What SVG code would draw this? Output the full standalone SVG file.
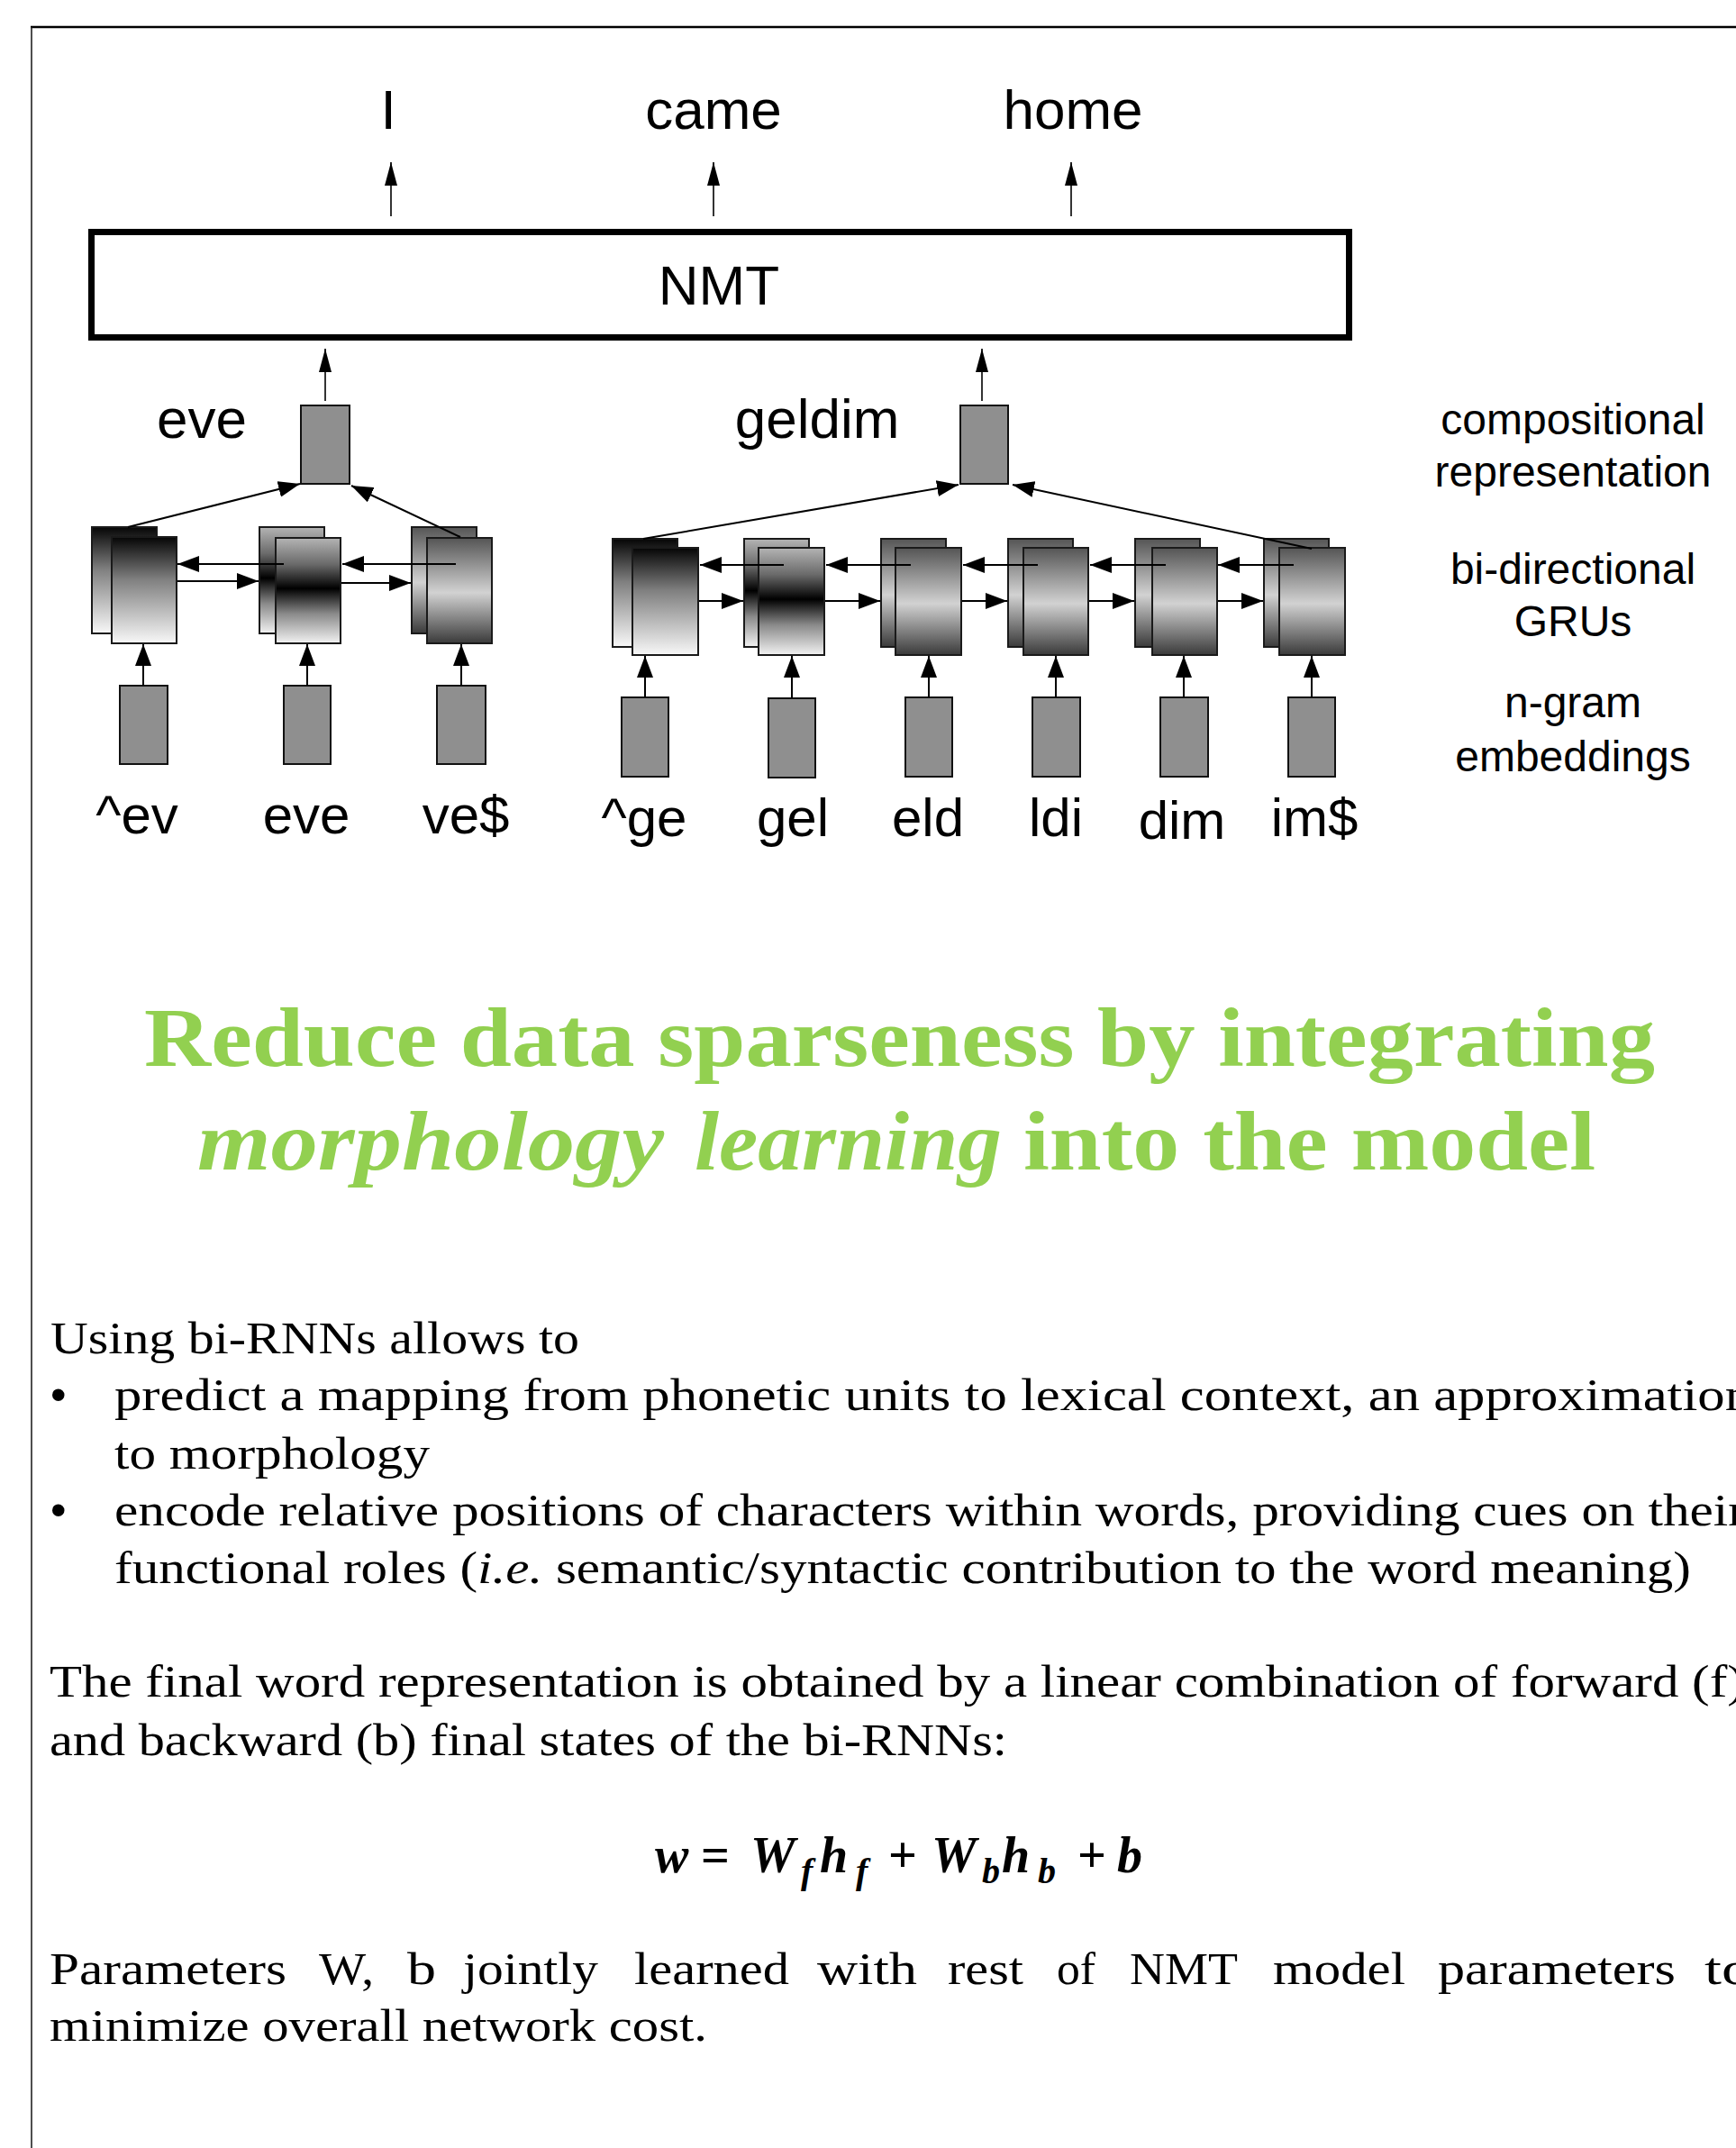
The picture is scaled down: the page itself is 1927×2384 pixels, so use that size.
<svg xmlns="http://www.w3.org/2000/svg" width="1927" height="2384" viewBox="0 0 1927 2384">
  <defs>
    <style>
      .sans { font-family: "Liberation Sans", Arial, sans-serif; fill: #000; }
      .lbl { font-size: 62px; text-anchor: middle; }
      .gram { font-size: 60px; text-anchor: middle; }
      .side { font-size: 48px; text-anchor: middle; }
      .serif { font-family: "Liberation Serif", "Times New Roman", serif; fill: #000; }
      .body { font-size: 51px; }
      .title { font-family: "Liberation Serif", "Times New Roman", serif; font-size: 94px; font-weight: bold; fill: #92D050; }
      .eq { font-family: "Liberation Serif", "Times New Roman", serif; font-size: 56px; font-weight: bold; font-style: italic; fill: #000; }
      .eqsub { font-size: 40px; }
      .emb { fill: #8f8f8f; stroke: #111; stroke-width: 2; }
      .gru { stroke: #1a1a1a; stroke-width: 2; }
      .arr { stroke: #000; stroke-width: 2; fill: none; marker-end: url(#head); }
      .arrThin { stroke: #000; stroke-width: 1.6; fill: none; marker-end: url(#headTall); }
    </style>
    <marker id="head" markerUnits="userSpaceOnUse" markerWidth="24" markerHeight="18" refX="24" refY="9" orient="auto">
      <path d="M0,0 L24,9 L0,18 z" fill="#000"/>
    </marker>
    <marker id="headTall" markerUnits="userSpaceOnUse" markerWidth="26" markerHeight="14" refX="26" refY="7" orient="auto">
      <path d="M0,0 L26,7 L0,14 z" fill="#000"/>
    </marker>
    <!-- first n-gram cell: dark top fading to white -->
    <linearGradient id="gStart" x1="0" y1="0" x2="0" y2="1">
      <stop offset="0" stop-color="#050505"/>
      <stop offset="0.4" stop-color="#808080"/>
      <stop offset="1" stop-color="#f8f8f8"/>
    </linearGradient>
    <!-- second cell: black band in the middle -->
    <linearGradient id="gMid" x1="0" y1="0" x2="0" y2="1">
      <stop offset="0" stop-color="#b4b4b4"/>
      <stop offset="0.25" stop-color="#6a6a6a"/>
      <stop offset="0.48" stop-color="#000"/>
      <stop offset="0.72" stop-color="#8a8a8a"/>
      <stop offset="1" stop-color="#f2f2f2"/>
    </linearGradient>
    <!-- remaining cells: dark edges, light centre -->
    <linearGradient id="gRest" x1="0" y1="0" x2="0" y2="1">
      <stop offset="0" stop-color="#555"/>
      <stop offset="0.52" stop-color="#d2d2d2"/>
      <stop offset="1" stop-color="#3a3a3a"/>
    </linearGradient>
  </defs>

  <rect width="1927" height="2384" fill="#fff"/>

  <!-- slide frame -->
  <g id="frame">
    <line x1="34" y1="30" x2="1927" y2="30" stroke="#000" stroke-width="2.5"/>
    <line x1="35" y1="30" x2="35" y2="2384" stroke="#222" stroke-width="1.6"/>
  </g>

  <!-- output words -->
  <g id="out-I"><text class="sans lbl" x="431" y="143" font-size="64">I</text></g>
  <g id="out-came"><text class="sans lbl" x="792" y="143" font-size="64">came</text></g>
  <g id="out-home"><text class="sans lbl" x="1191" y="143" font-size="64">home</text></g>

  <!-- NMT block -->
  <g id="nmt">
    <rect x="101.5" y="257.5" width="1396" height="117" fill="#fff" stroke="#000" stroke-width="7"/>
    <text class="sans lbl" x="798" y="338">NMT</text>
  </g>

  <!-- word "eve" -->
  <g id="word-eve">
    <text class="sans lbl" x="224" y="486">eve</text>
    <rect id="comp-eve" class="emb" x="334" y="450" width="54" height="87"/>
  </g>
  <g id="gru-eve-1">
    <rect class="gru" x="102" y="585" width="72" height="118" fill="url(#gStart)"/>
    <rect class="gru" x="124" y="596" width="72" height="118" fill="url(#gStart)"/>
  </g>
  <g id="gru-eve-2">
    <rect class="gru" x="288" y="585" width="72" height="118" fill="url(#gMid)"/>
    <rect class="gru" x="306" y="597" width="72" height="117" fill="url(#gMid)"/>
  </g>
  <g id="gru-eve-3">
    <rect class="gru" x="457" y="585" width="72" height="118" fill="url(#gRest)"/>
    <rect class="gru" x="474" y="597" width="72" height="117" fill="url(#gRest)"/>
  </g>
  <g id="emb-ev1"><rect class="emb" x="133" y="761" width="53" height="87"/><text class="sans gram" x="152" y="925">^ev</text></g>
  <g id="emb-eve"><rect class="emb" x="315" y="761" width="52" height="87"/><text class="sans gram" x="340" y="925">eve</text></g>
  <g id="emb-ve2"><rect class="emb" x="485" y="761" width="54" height="87"/><text class="sans gram" x="517" y="925">ve$</text></g>

  <!-- word "geldim" -->
  <g id="word-geldim">
    <text class="sans lbl" x="907" y="486">geldim</text>
    <rect id="comp-geldim" class="emb" x="1066" y="450" width="53" height="87"/>
  </g>
  <g id="gru-geldim-1">
    <rect class="gru" x="680" y="598" width="72" height="120" fill="url(#gStart)"/>
    <rect class="gru" x="702" y="608" width="73" height="119" fill="url(#gStart)"/>
  </g>
  <g id="gru-geldim-2">
    <rect class="gru" x="826" y="598" width="72" height="120" fill="url(#gMid)"/>
    <rect class="gru" x="842" y="608" width="73" height="119" fill="url(#gMid)"/>
  </g>
  <g id="gru-geldim-3">
    <rect class="gru" x="978" y="598" width="72" height="120" fill="url(#gRest)"/>
    <rect class="gru" x="994" y="608" width="73" height="119" fill="url(#gRest)"/>
  </g>
  <g id="gru-geldim-4">
    <rect class="gru" x="1119" y="598" width="72" height="120" fill="url(#gRest)"/>
    <rect class="gru" x="1136" y="608" width="72" height="119" fill="url(#gRest)"/>
  </g>
  <g id="gru-geldim-5">
    <rect class="gru" x="1260" y="598" width="72" height="120" fill="url(#gRest)"/>
    <rect class="gru" x="1279" y="608" width="72" height="119" fill="url(#gRest)"/>
  </g>
  <g id="gru-geldim-6">
    <rect class="gru" x="1403" y="598" width="72" height="120" fill="url(#gRest)"/>
    <rect class="gru" x="1420" y="608" width="73" height="119" fill="url(#gRest)"/>
  </g>
  <g id="emb-ge1"><rect class="emb" x="690" y="774" width="52" height="88"/><text class="sans gram" x="715" y="928">^ge</text></g>
  <g id="emb-gel"><rect class="emb" x="853" y="775" width="52" height="88"/><text class="sans gram" x="880" y="928">gel</text></g>
  <g id="emb-eld"><rect class="emb" x="1005" y="774" width="52" height="88"/><text class="sans gram" x="1030" y="928">eld</text></g>
  <g id="emb-ldi"><rect class="emb" x="1146" y="774" width="53" height="88"/><text class="sans gram" x="1172" y="928">ldi</text></g>
  <g id="emb-dim"><rect class="emb" x="1288" y="774" width="53" height="88"/><text class="sans gram" x="1312" y="931">dim</text></g>
  <g id="emb-im2"><rect class="emb" x="1430" y="774" width="52" height="88"/><text class="sans gram" x="1459" y="928">im$</text></g>

  <!-- layer captions -->
  <g id="caption-comp">
    <text class="sans side" x="1746" y="482">compositional</text>
    <text class="sans side" x="1746" y="540">representation</text>
  </g>
  <g id="caption-gru">
    <text class="sans side" x="1746" y="648">bi-directional</text>
    <text class="sans side" x="1746" y="706">GRUs</text>
  </g>
  <g id="caption-emb">
    <text class="sans side" x="1746" y="796">n-gram</text>
    <text class="sans side" x="1746" y="856">embeddings</text>
  </g>

  <!-- connectors -->
  <g id="connectors">
    <path class="arrThin" d="M434,240 L434,180"/>
    <path class="arrThin" d="M792,240 L792,180"/>
    <path class="arrThin" d="M1189,240 L1189,180"/>
    <path class="arrThin" d="M361,445 L361,387"/>
    <path class="arrThin" d="M1090,445 L1090,387"/>

    <path class="arr" d="M142,585 L333,537"/>
    <path class="arr" d="M511,596 L390,539"/>
    <path class="arr" d="M714,598 L1064,538"/>
    <path class="arr" d="M1456,609 L1124,538"/>

    <path class="arr" d="M159,761 L159,715"/>
    <path class="arr" d="M341,761 L341,715"/>
    <path class="arr" d="M512,761 L512,715"/>
    <path class="arr" d="M716,774 L716,728"/>
    <path class="arr" d="M879,775 L879,728"/>
    <path class="arr" d="M1031,774 L1031,728"/>
    <path class="arr" d="M1172,774 L1172,728"/>
    <path class="arr" d="M1314,774 L1314,728"/>
    <path class="arr" d="M1456,774 L1456,728"/>

    <path class="arr" d="M315,626 L197,626"/>
    <path class="arr" d="M197,645 L287,645"/>
    <path class="arr" d="M506,626 L380,626"/>
    <path class="arr" d="M379,647 L456,647"/>

    <path class="arr" d="M870,627 L777,627"/>
    <path class="arr" d="M1011,627 L917,627"/>
    <path class="arr" d="M1152,627 L1069,627"/>
    <path class="arr" d="M1294,627 L1210,627"/>
    <path class="arr" d="M1436,627 L1352,627"/>
    <path class="arr" d="M776,667 L825,667"/>
    <path class="arr" d="M916,667 L977,667"/>
    <path class="arr" d="M1068,667 L1118,667"/>
    <path class="arr" d="M1209,667 L1259,667"/>
    <path class="arr" d="M1352,667 L1402,667"/>
  </g>

  <!-- headline -->
  <g id="headline">
    <text class="title" x="160" y="1183" textLength="1677" lengthAdjust="spacingAndGlyphs">Reduce data sparseness by integrating</text>
    <text class="title" x="219" y="1298" font-style="italic" textLength="518" lengthAdjust="spacingAndGlyphs">morphology</text>
    <text class="title" x="771" y="1298" font-style="italic" textLength="341" lengthAdjust="spacingAndGlyphs">learning</text>
    <text class="title" x="1136" y="1298" textLength="635" lengthAdjust="spacingAndGlyphs">into the model</text>
  </g>

  <!-- explanatory text -->
  <g id="body-text" class="serif body">
    <text x="56" y="1502" textLength="587" lengthAdjust="spacingAndGlyphs">Using bi-RNNs allows to</text>
    <text class="sans" x="56" y="1565" font-size="50">•</text>
    <text x="127" y="1565" textLength="1818" lengthAdjust="spacingAndGlyphs">predict a mapping from phonetic units to lexical context, an approximation</text>
    <text x="127" y="1630" textLength="350" lengthAdjust="spacingAndGlyphs">to morphology</text>
    <text class="sans" x="56" y="1693" font-size="50">•</text>
    <text x="127" y="1693" textLength="1811" lengthAdjust="spacingAndGlyphs">encode relative positions of characters within words, providing cues on their</text>
    <text x="127" y="1757" textLength="1750" lengthAdjust="spacingAndGlyphs">functional roles (<tspan font-style="italic">i.e.</tspan> semantic/syntactic contribution to the word meaning)</text>

    <text x="55" y="1883" textLength="1882" lengthAdjust="spacingAndGlyphs">The final word representation is obtained by a linear combination of forward (f)</text>
    <text x="55" y="1948" textLength="1063" lengthAdjust="spacingAndGlyphs">and backward (b) final states of the bi-RNNs:</text>

    <!-- justified line: each word placed on its own -->
    <text x="55" y="2202" textLength="263" lengthAdjust="spacingAndGlyphs">Parameters</text>
    <text x="354" y="2202" textLength="61" lengthAdjust="spacingAndGlyphs">W,</text>
    <text x="452" y="2202" textLength="32" lengthAdjust="spacingAndGlyphs">b</text>
    <text x="514" y="2202" textLength="150" lengthAdjust="spacingAndGlyphs">jointly</text>
    <text x="704" y="2202" textLength="172" lengthAdjust="spacingAndGlyphs">learned</text>
    <text x="907" y="2202" textLength="111" lengthAdjust="spacingAndGlyphs">with</text>
    <text x="1052" y="2202" textLength="84" lengthAdjust="spacingAndGlyphs">rest</text>
    <text x="1173" y="2202" textLength="43" lengthAdjust="spacingAndGlyphs">of</text>
    <text x="1254" y="2202" textLength="120" lengthAdjust="spacingAndGlyphs">NMT</text>
    <text x="1413" y="2202" textLength="147" lengthAdjust="spacingAndGlyphs">model</text>
    <text x="1596" y="2202" textLength="264" lengthAdjust="spacingAndGlyphs">parameters</text>
    <text x="1892" y="2202" textLength="53" lengthAdjust="spacingAndGlyphs">to</text>

    <text x="55" y="2265" textLength="730" lengthAdjust="spacingAndGlyphs">minimize overall network cost.</text>
  </g>

  <!-- combination formula -->
  <g id="formula" class="eq">
    <text x="727" y="2078">w</text>
    <text x="778" y="2078" font-style="normal">=</text>
    <text x="833" y="2078">W</text>
    <text x="889" y="2090" class="eqsub">f</text>
    <text x="910" y="2078">h</text>
    <text x="950" y="2090" class="eqsub">f</text>
    <text x="986" y="2078" font-style="normal">+</text>
    <text x="1034" y="2078">W</text>
    <text x="1090" y="2090" class="eqsub">b</text>
    <text x="1112" y="2078">h</text>
    <text x="1152" y="2090" class="eqsub">b</text>
    <text x="1196" y="2078" font-style="normal">+</text>
    <text x="1240" y="2078">b</text>
  </g>
</svg>
